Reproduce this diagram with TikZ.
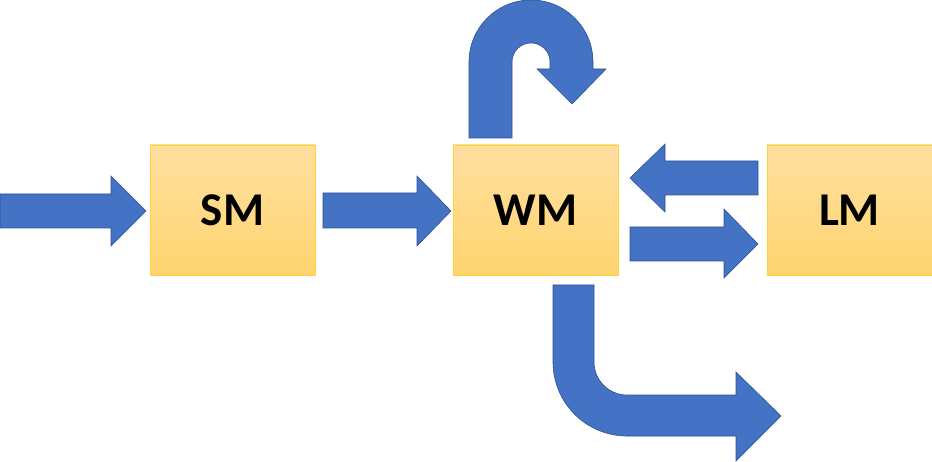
\documentclass[tikz,border=0pt]{standalone}
\usepackage{fontspec}
\setsansfont{Carlito}
\definecolor{boxtop}{HTML}{FFDF9F}
\definecolor{boxbot}{HTML}{FFD470}
\definecolor{boxline}{HTML}{FFD43B}
\definecolor{arrowfill}{HTML}{4472C4}
\definecolor{arrowline}{HTML}{2F528F}
\begin{document}
\begin{tikzpicture}[x=1pt,y=-1pt]
\tikzset{module/.style={draw=boxline, line width=0.8pt, top color=boxtop, bottom color=boxbot,
    minimum width=165pt, minimum height=130pt, inner sep=0pt,
    font=\sffamily\bfseries\fontsize{47}{56}\selectfont},
  blockarrow/.style={fill=arrowfill, draw=arrowline, line width=0.6pt, line join=miter}}
\useasboundingbox (0,0) rectangle (932,462);
\node[module] (sm) at (232.5,210) {SM};
\node[module] (wm) at (535.5,210) {WM};
\node[module] (lm) at (849.5,210) {LM};
% straight arrows
\draw[blockarrow] (0,194) -- (111,194) -- (111,176) -- (146,211) -- (111,246) -- (111,228) -- (0,228) -- cycle;
\draw[blockarrow] (323,193) -- (417,193) -- (417,176) -- (451,211) -- (417,246) -- (417,228) -- (323,228) -- cycle;
\draw[blockarrow] (758,161) -- (665,161) -- (665,144) -- (630,178) -- (665,212) -- (665,195) -- (758,195) -- cycle;
\draw[blockarrow] (630,227) -- (724,227) -- (724,209) -- (758,244) -- (724,278) -- (724,261) -- (630,261) -- cycle;
% bent arrows
\draw[blockarrow] (469,138) -- (469,62) arc (180:360:62) -- (593,69) -- (606,69) -- (572,104)
  -- (537,69) -- (550,69) -- (550,62) arc (360:180:19) -- (512,138) -- cycle;
\draw[blockarrow] (553,285) -- (594,285) -- (594,362) arc (180:90:33) -- (736,395) -- (736,372)
  -- (781,416) -- (736,461) -- (736,436) -- (627,436) arc (90:180:74) -- cycle;
\end{tikzpicture}
\end{document}
